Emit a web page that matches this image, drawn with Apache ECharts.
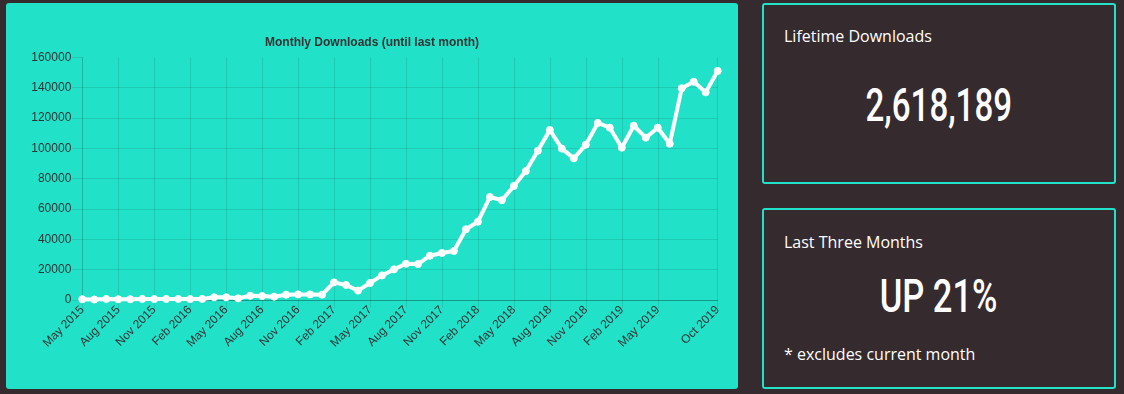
<!DOCTYPE html>
<html>
<head>
<meta charset="utf-8">
<script src="https://cdn.jsdelivr.net/npm/echarts@6/dist/echarts.min.js"></script>
<style>
  html, body { margin: 0; padding: 0; }
  body { width: 1124px; height: 394px; background: #352a2e; position: relative; overflow: hidden; font-family: "Open Sans", sans-serif; }
  #chartPanel { position: absolute; left: 6px; top: 3px; width: 732px; height: 386px; background: #22e1c9; border-radius: 3px; }
  #chart { width: 732px; height: 386px; }
  .box { position: absolute; left: 762px; width: 354px; height: 181px; box-sizing: border-box; border: 2px solid #22e1c9; border-radius: 3px; }
  .label { position: absolute; left: 784px; color: #fff; font-size: 16px; line-height: 16px; white-space: nowrap; }
  .big { position: absolute; left: 762px; width: 354px; text-align: center; color: #fff; font-family: Roboto, sans-serif; font-size: 46px; line-height: 46px; font-weight: 500; white-space: nowrap; }
  .big span { display: inline-block; transform-origin: center; }
</style>
</head>
<body>
<div id="chartPanel"><div id="chart"></div></div>
<div class="box" style="top:3px"></div>
<div class="box" style="top:208px"></div>
<div class="label" style="top:28px">Lifetime Downloads</div>
<div class="big" style="top:82px"><span id="lifetime" style="transform:scaleX(0.72)"></span></div>
<div class="label" style="top:234px">Last Three Months</div>
<div class="big" style="top:273px"><span id="trend" style="transform:scaleX(0.75)"></span></div>
<div class="label" style="top:346px">* excludes current month</div>
<script>
const chartTitle = 'Monthly Downloads (until last month)';
const months = [
  'May 2015','Jun 2015','Jul 2015','Aug 2015','Sep 2015','Oct 2015','Nov 2015','Dec 2015',
  'Jan 2016','Feb 2016','Mar 2016','Apr 2016','May 2016','Jun 2016','Jul 2016','Aug 2016','Sep 2016','Oct 2016','Nov 2016','Dec 2016',
  'Jan 2017','Feb 2017','Mar 2017','Apr 2017','May 2017','Jun 2017','Jul 2017','Aug 2017','Sep 2017','Oct 2017','Nov 2017','Dec 2017',
  'Jan 2018','Feb 2018','Mar 2018','Apr 2018','May 2018','Jun 2018','Jul 2018','Aug 2018','Sep 2018','Oct 2018','Nov 2018','Dec 2018',
  'Jan 2019','Feb 2019','Mar 2019','Apr 2019','May 2019','Jun 2019','Jul 2019','Aug 2019','Sep 2019','Oct 2019'
];
const downloads = [
  500, 300, 700, 500, 500, 700, 600, 700,
  700, 600, 700, 1800, 1800, 1100, 2800, 2600, 2200, 3500, 3700, 3700,
  3500, 11600, 9900, 6200, 11200, 16200, 20200, 23900, 23700, 29200, 31000, 32300,
  46600, 51600, 67900, 65800, 75200, 85000, 98400, 112100, 99800, 93400, 102400, 116700,
  113600, 100400, 114900, 107000, 113600, 103000, 139600, 143900, 136900, 151000
];
const yTicks = { min: 0, max: 160000, step: 20000 };
const lifetimeDownloads = '2,618,189';
const lastThreeMonths = 'UP 21%';

document.getElementById('lifetime').textContent = lifetimeDownloads;
document.getElementById('trend').textContent = lastThreeMonths;

const lastIdx = months.length - 1;
const showTick = (i) => (i % 3 === 0 && i <= lastIdx - 4) || i === lastIdx;
const font = '"Liberation Sans", Arial, sans-serif';
const gridColor = 'rgba(0,0,0,0.1)';

const chart = echarts.init(document.getElementById('chart'), null, { renderer: 'canvas' });
chart.setOption({
  animation: false,
  backgroundColor: 'transparent',
  title: {
    text: chartTitle, left: 'center', top: 29,
    textStyle: { fontSize: 12, fontWeight: 'bold', color: '#333', fontFamily: font }
  },
  grid: { left: 76.3, top: 54.3, width: 635.4, height: 242.7, containLabel: false },
  xAxis: {
    type: 'category', data: months, boundaryGap: false,
    axisLine: { show: true, lineStyle: { color: 'rgba(0,0,0,0.25)', width: 1 } },
    axisTick: { show: true, interval: showTick, length: 8, lineStyle: { color: gridColor } },
    axisLabel: { interval: showTick, rotate: 45, fontSize: 12, color: '#333', fontFamily: font, margin: 8 },
    splitLine: { show: true, interval: showTick, lineStyle: { color: gridColor } }
  },
  yAxis: {
    type: 'value', min: yTicks.min, max: yTicks.max, interval: yTicks.step,
    axisLine: { show: true, lineStyle: { color: gridColor } },
    axisTick: { show: true, length: 10, lineStyle: { color: gridColor } },
    axisLabel: { fontSize: 12, color: '#333', fontFamily: font, margin: 11, formatter: (v) => String(v) },
    splitLine: { show: true, showMaxLine: false, lineStyle: { color: gridColor } }
  },
  series: [{
    type: 'line', data: downloads, smooth: false,
    symbol: 'circle', symbolSize: 7, showSymbol: true,
    lineStyle: { color: '#fff', width: 4 },
    itemStyle: { color: '#fff', borderColor: '#fff' }
  }]
});
</script>
</body>
</html>
